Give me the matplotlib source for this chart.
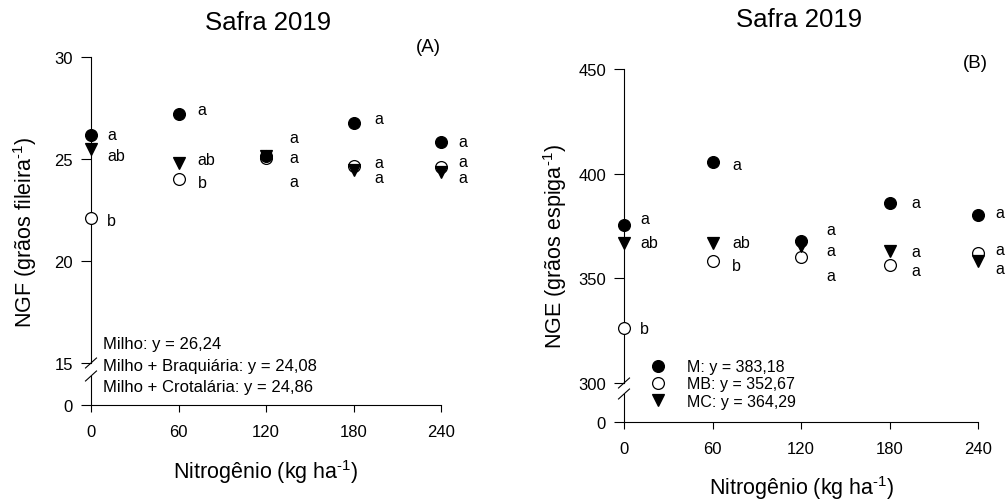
import matplotlib
matplotlib.use("Agg")
import matplotlib.pyplot as plt
from matplotlib.lines import Line2D

plt.rcParams['font.family'] = ['Liberation Sans', 'DejaVu Sans']
plt.rcParams['mathtext.fontset'] = 'custom'
plt.rcParams['mathtext.rm'] = 'Liberation Sans'
plt.rcParams['mathtext.it'] = 'Liberation Sans:italic'

# ---------- DATA ----------
nitrogen = [0, 60, 120, 180, 240]

# (A) NGF
ngf_milho = [26.2, 27.22, 25.13, 26.75, 25.84]
ngf_braq = [22.09, 24.03, 25.05, 24.67, 24.6]
ngf_crot = [25.5, 24.8, 25.15, 24.45, 24.35]
let_milho_a = ['a', 'a', 'a', 'a', 'a']
let_braq_a = ['b', 'b', 'a', 'a', 'a']
let_crot_a = ['ab', 'ab', 'a', 'a', 'a']
laby_milho_a = [26.21, 27.43, 26.07, 26.99, 25.87]
laby_braq_a = [21.99, 23.83, 23.88, 24.85, 24.9]
laby_crot_a = [25.15, 25.0, 25.05, 24.08, 24.08]
eq_a = ["Milho: y = 26,24", "Milho + Braquiária: y = 24,08", "Milho + Crotalária: y = 24,86"]

# (B) NGE
nge_m = [375.4, 405.8, 367.8, 386.1, 380.2]
nge_mb = [326.2, 358.3, 360.2, 356.3, 361.9]
nge_mc = [366.9, 366.9, 365.4, 363.1, 358.3]
let_m_b = ['a', 'a', 'a', 'a', 'a']
let_mb_b = ['b', 'b', 'a', 'a', 'a']
let_mc_b = ['ab', 'ab', 'a', 'a', 'a']
laby_m_b = [378.6, 404.2, 373.4, 386.1, 381.5]
laby_mb_b = [326.2, 356.3, 351.5, 353.8, 363.7]
laby_mc_b = [366.9, 366.9, 363.4, 362.6, 354.6]
eq_b = ["M: y = 383,18", "MB: y = 352,67", "MC: y = 364,29"]

# ---------- LAYOUT ----------
W, H = 1007, 502
fig = plt.figure(figsize=(W / 100, H / 100), dpi=100)


def box(l, t, r, b):
    return [l / W, 1 - b / H, (r - l) / W, (b - t) / H]


def fx(x):
    return x / W


def fy(y):
    return 1 - y / H


def style_axes(top, bot, yticks, ylim):
    for ax in (top, bot):
        ax.set_xlim(0, 240)
        ax.patch.set_alpha(0)
        ax.spines['top'].set_visible(False)
        ax.spines['right'].set_visible(False)
        for sp in ax.spines.values():
            sp.set_linewidth(0.8)
    top.spines['bottom'].set_visible(False)
    top.set_ylim(*ylim)
    top.set_yticks(yticks)
    top.set_xticks([])
    top.tick_params(axis='y', direction='out', length=7, width=0.8, labelsize=12, pad=6)
    bot.set_ylim(0, 1)
    bot.set_yticks([0])
    bot.set_xticks(nitrogen)
    bot.tick_params(axis='y', direction='out', length=7, width=0.8, labelsize=12, pad=6)
    bot.tick_params(axis='x', direction='out', length=5, width=0.8, labelsize=12, pad=9)


def slash(xc, yc):
    fig.add_artist(Line2D([fx(xc - 5.5), fx(xc + 5.5)], [fy(yc + 5), fy(yc - 5)],
                          transform=fig.transFigure, color='black', lw=0.8))


def plot_series(ax, ys, marker, face, z):
    line, = ax.plot(nitrogen, ys, linestyle='none', marker=marker, markersize=8.5,
                    markerfacecolor=face, markeredgecolor='black', markeredgewidth=0.9,
                    clip_on=False, zorder=z)
    return line


def letters(ax, labs, ys, dx):
    for n, lab, y, d in zip(nitrogen, labs, ys, dx):
        ax.text(n + d, y, lab, fontsize=11.5, ha='left', va='center')


sup = r"$^{\text{-}1}$"

# ---------- PANEL A ----------
axA = fig.add_axes(box(91, 58, 441, 364))
axA0 = fig.add_axes(box(91, 377, 441, 406))
style_axes(axA, axA0, [15, 20, 25, 30], (15, 30))
slash(91, 364)
slash(91, 377)

plot_series(axA, ngf_braq, 'o', 'white', 3)
plot_series(axA, ngf_milho, 'o', 'black', 4)
plot_series(axA, ngf_crot, 'v', 'black', 5)
dx_a = [11, 13, 16, 14, 12]
letters(axA, let_milho_a, laby_milho_a, dx_a)
letters(axA, let_braq_a, laby_braq_a, dx_a)
letters(axA, let_crot_a, laby_crot_a, dx_a)

for txt, yp in zip(eq_a, [345, 367, 388]):
    fig.text(fx(103), fy(yp), txt, fontsize=12, ha='left', va='center')

fig.text(fx(268), fy(23), "Safra 2019", fontsize=18.5, ha='center', va='center')
fig.text(fx(428), fy(48), "(A)", fontsize=13.5, ha='center', va='center')
fig.text(fx(25), fy(232), "NGF (grãos fileira" + sup + ")", fontsize=15.5,
         rotation=90, ha='center', va='center')
fig.text(fx(266), fy(472), "Nitrogênio (kg ha" + sup + ")", fontsize=15.5,
         ha='center', va='center')

# ---------- PANEL B ----------
axB = fig.add_axes(box(624, 70, 978, 384))
axB0 = fig.add_axes(box(624, 395, 978, 423))
style_axes(axB, axB0, [300, 350, 400, 450], (300, 450))
slash(624, 384)
slash(624, 395)

h_mb = plot_series(axB, nge_mb, 'o', 'white', 3)
h_m = plot_series(axB, nge_m, 'o', 'black', 4)
h_mc = plot_series(axB, nge_mc, 'v', 'black', 5)
dx_b = [11, 13.5, 17, 15, 11.5]
letters(axB, let_m_b, laby_m_b, dx_b)
letters(axB, let_mb_b, laby_mb_b, dx_b)
letters(axB, let_mc_b, laby_mc_b, dx_b)

axB.legend([h_m, h_mb, h_mc], eq_b, loc='center left', frameon=False,
           bbox_to_anchor=(fx(650), fy(385)), bbox_transform=fig.transFigure,
           fontsize=11.5, handlelength=1.0, handletextpad=1.3, labelspacing=0.15,
           borderpad=0, borderaxespad=0, numpoints=1)

fig.text(fx(799), fy(20), "Safra 2019", fontsize=18.5, ha='center', va='center')
fig.text(fx(975), fy(63), "(B)", fontsize=13.5, ha='center', va='center')
fig.text(fx(555), fy(247), "NGE (grãos espiga" + sup + ")", fontsize=15.5,
         rotation=90, ha='center', va='center')
fig.text(fx(802), fy(488), "Nitrogênio (kg ha" + sup + ")", fontsize=15.5,
         ha='center', va='center')

fig.savefig("out.png", dpi=100)
